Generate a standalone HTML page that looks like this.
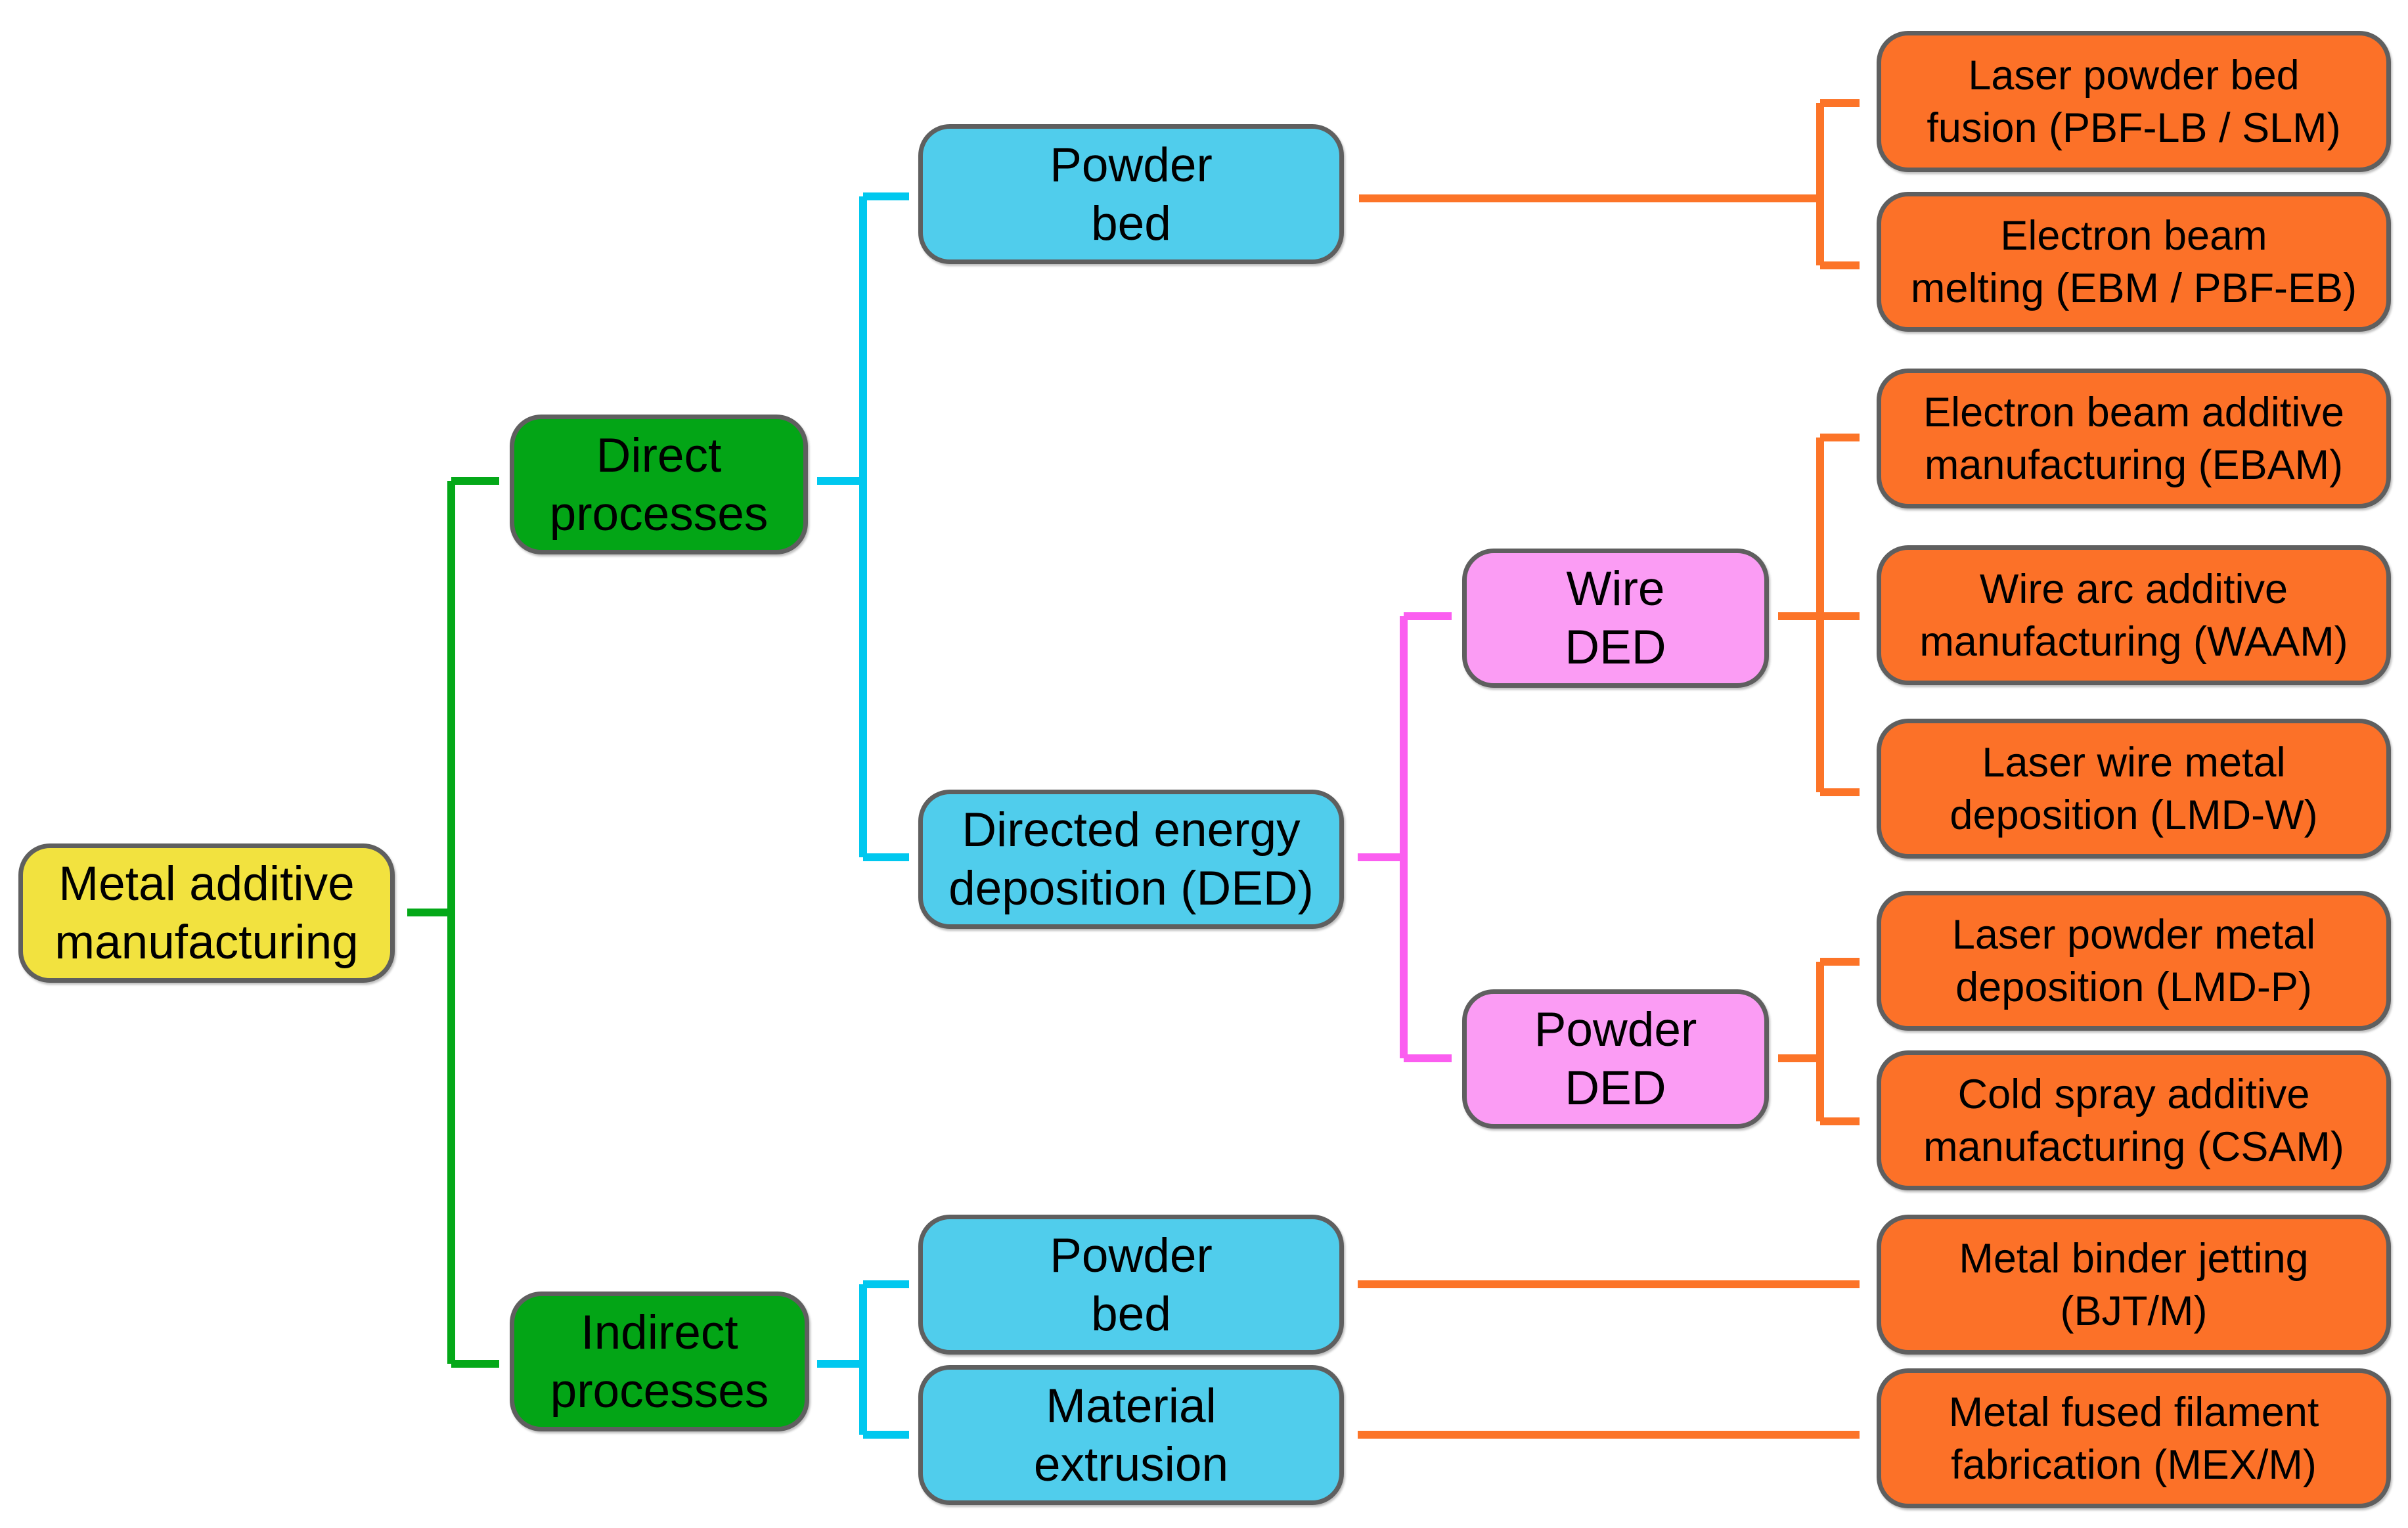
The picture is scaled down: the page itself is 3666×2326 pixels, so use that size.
<!DOCTYPE html>
<html><head><meta charset="utf-8"><style>
html,body{margin:0;padding:0;background:#fff}
#c{position:relative;width:3666px;height:2326px;overflow:hidden;background:#fff}
svg{position:absolute;left:0;top:0}
.b{position:absolute;box-sizing:border-box;border:7px solid #5f5f5f;border-radius:48px;display:flex;align-items:center;justify-content:center;text-align:center;font-family:"Liberation Sans",Arial,sans-serif;color:#000;box-shadow:2px 3px 3px rgba(0,0,0,0.25);white-space:nowrap}
.L{font-size:73px;line-height:89px}
.S{font-size:63px;line-height:80px}
.y{background:#f2e23f}.g{background:#03a516}.c{background:#50cdec}.p{background:#fb9cf4}.o{background:#fc7128}
</style></head><body><div id="c">
<svg width="3666" height="2326" fill="none" stroke-width="12">
<g stroke="#04a818"><path d="M620 1389H687M687 732V2076M687 732H760M687 2076H760"/></g>
<g stroke="#00c8ef"><path d="M1244 732H1314M1314 299V1305M1314 299H1384M1314 1305H1384M1244 2076H1314M1314 1955V2184M1314 1955H1384M1314 2184H1384"/></g>
<g stroke="#fb5ef0"><path d="M2067 1305H2137M2137 938V1611M2137 938H2210M2137 1611H2210"/></g>
<g stroke="#fc7428"><path d="M2069 302H2771M2771 157V404M2771 157H2831M2771 404H2831M2707 938H2831M2771 666V1206M2771 666H2831M2771 1206H2831M2707 1611H2771M2771 1464V1707M2771 1464H2831M2771 1707H2831M2067 1955H2831M2067 2184H2831"/></g>
</svg>
<div class="b y L" style="left:28px;top:1284px;width:573px;height:212px">Metal additive<br>manufacturing</div>
<div class="b g L" style="left:776px;top:631px;width:454px;height:213px">Direct<br>processes</div>
<div class="b g L" style="left:776px;top:1966px;width:456px;height:213px">Indirect<br>processes</div>
<div class="b c L" style="left:1398px;top:189px;width:648px;height:213px">Powder<br>bed</div>
<div class="b c L" style="left:1398px;top:1202px;width:648px;height:212px">Directed energy<br>deposition (DED)</div>
<div class="b c L" style="left:1398px;top:1849px;width:648px;height:213px">Powder<br>bed</div>
<div class="b c L" style="left:1398px;top:2078px;width:648px;height:213px">Material<br>extrusion</div>
<div class="b p L" style="left:2226px;top:835px;width:467px;height:212px">Wire<br>DED</div>
<div class="b p L" style="left:2226px;top:1506px;width:467px;height:212px">Powder<br>DED</div>
<div class="b o S" style="left:2857px;top:47px;width:783px;height:215px">Laser powder bed<br>fusion (PBF-LB / SLM)</div>
<div class="b o S" style="left:2857px;top:292px;width:783px;height:213px">Electron beam<br>melting (EBM / PBF-EB)</div>
<div class="b o S" style="left:2857px;top:561px;width:783px;height:213px">Electron beam additive<br>manufacturing (EBAM)</div>
<div class="b o S" style="left:2857px;top:830px;width:783px;height:213px">Wire arc additive<br>manufacturing (WAAM)</div>
<div class="b o S" style="left:2857px;top:1094px;width:783px;height:213px">Laser wire metal<br>deposition (LMD-W)</div>
<div class="b o S" style="left:2857px;top:1356px;width:783px;height:213px">Laser powder metal<br>deposition (LMD-P)</div>
<div class="b o S" style="left:2857px;top:1599px;width:783px;height:213px">Cold spray additive<br>manufacturing (CSAM)</div>
<div class="b o S" style="left:2857px;top:1849px;width:783px;height:213px">Metal binder jetting<br>(BJT/M)</div>
<div class="b o S" style="left:2857px;top:2083px;width:783px;height:213px">Metal fused filament<br>fabrication (MEX/M)</div>
</div></body></html>
